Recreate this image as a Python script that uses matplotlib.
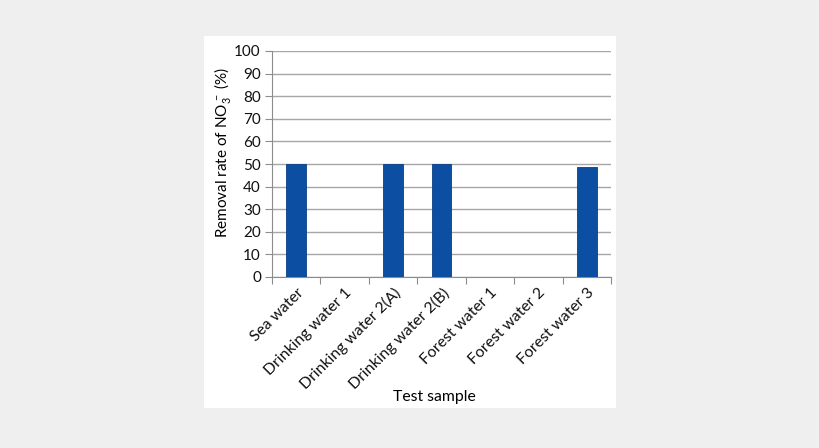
import matplotlib
matplotlib.use("Agg")
import matplotlib.pyplot as plt
from matplotlib.patches import Rectangle
import numpy as np

categories = ["Sea water", "Drinking water 1", "Drinking water 2(A)", "Drinking water 2(B)",
              "Forest water 1", "Forest water 2", "Forest water 3"]
values = [50, 0, 50, 50, 0, 0, 48.5]
yticks = [0, 10, 20, 30, 40, 50, 60, 70, 80, 90, 100]

plt.rcParams['font.family'] = ['Lato', 'DejaVu Sans']
plt.rcParams['mathtext.fontset'] = 'custom'
plt.rcParams['mathtext.rm'] = 'Lato'
plt.rcParams['mathtext.it'] = 'Lato:italic'
plt.rcParams['text.color'] = '#111111'
plt.rcParams['xtick.labelcolor'] = '#111111'
plt.rcParams['ytick.labelcolor'] = '#111111'

W, H = 820, 448
fig = plt.figure(figsize=(W/100, H/100), dpi=100)
fig.patch.set_facecolor('#efefef')
fig.patches.append(Rectangle((204/W, 1-408/H), (616-204)/W, (408-36)/H,
                             transform=fig.transFigure, facecolor='white', edgecolor='none', zorder=-10))

ax = fig.add_axes([272/W, 1-277/H, (611-272)/W, (277-51)/H])
ax.set_zorder(1)
ax.set_facecolor('white')
x = np.arange(len(categories))
ax.bar(x, values, width=0.41, color='#0c4ea2', edgecolor='#0a3f85', linewidth=0.6, zorder=3)
ax.set_xlim(-0.5, len(categories)-0.5)
ax.set_ylim(0, 100)
ax.set_yticks(yticks)
ax.yaxis.grid(True, color='#a6a6a6', linewidth=1.0, zorder=0)
for s in ['top', 'right']:
    ax.spines[s].set_visible(False)
ax.spines['left'].set_color('#8c8c8c')
ax.spines['bottom'].set_color('#8c8c8c')
ax.tick_params(axis='y', length=5, color='#8c8c8c', labelsize=11, pad=3)
ax.set_xticks(np.arange(len(categories)+1) - 0.5)
ax.set_xticklabels([])
ax.tick_params(axis='x', which='major', length=5, color='#8c8c8c')
ax.set_xticks(x, minor=True)
ax.set_xticklabels(categories, minor=True, rotation=45, ha='right', va='top',
                   rotation_mode='anchor', fontsize=11.3)
ax.tick_params(axis='x', which='minor', length=0, pad=6)
ax.set_ylabel(r"Removal rate of NO$_3^{\,-}$ (%)", fontsize=11)
ax.yaxis.set_label_coords(-0.115, 0.553)
ax.set_xlabel("Test sample", fontsize=11.3)
ax.xaxis.set_label_coords(0.478, -0.5)

fig.savefig("out.png", dpi=100, facecolor=fig.get_facecolor())
